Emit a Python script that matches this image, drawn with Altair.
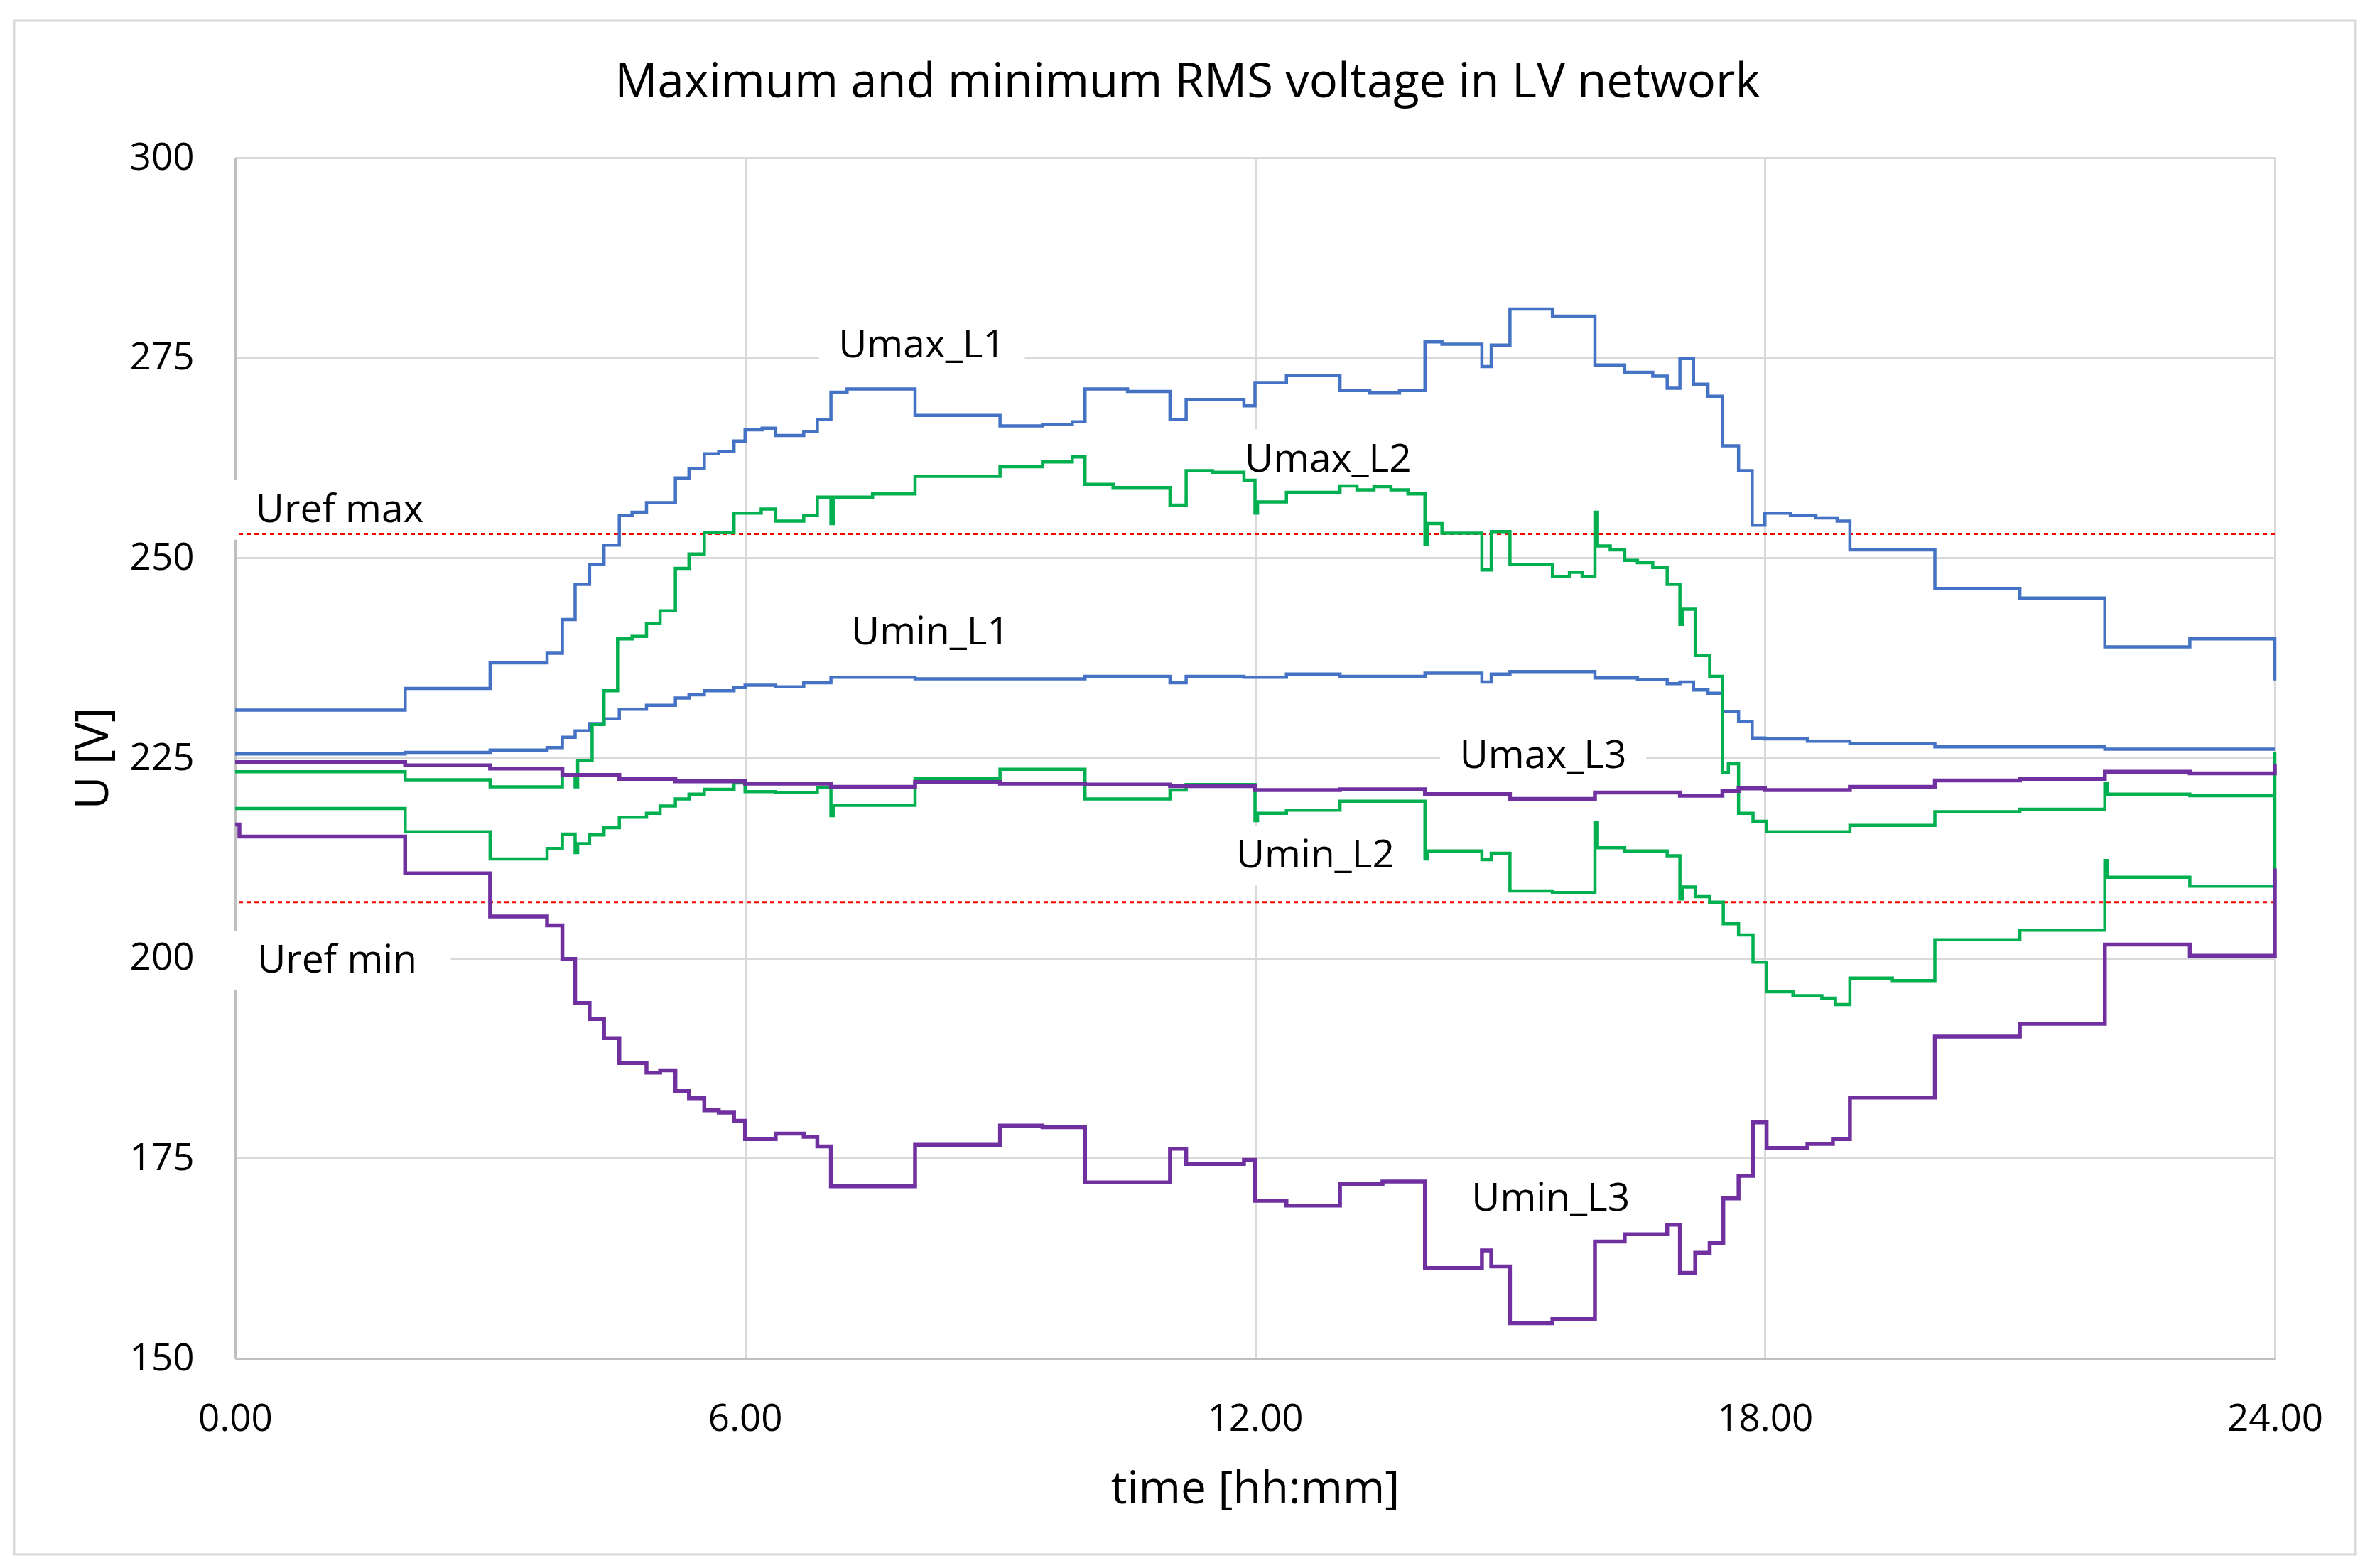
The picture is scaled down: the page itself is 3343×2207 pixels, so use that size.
import altair as alt
import pandas as pd

# ---------------- data (step change points: hour, voltage) ----------------
umax_l1 = [(0, 231.0), (2.0, 233.7), (3.0, 236.9), (3.67, 238.1), (3.85, 242.3), (4.0, 246.7),
           (4.17, 249.2), (4.34, 251.6), (4.52, 255.3), (4.67, 255.7), (4.84, 256.9), (5.18, 260.0),
           (5.34, 261.2), (5.52, 263.0), (5.69, 263.3), (5.87, 264.6), (6.0, 266.0), (6.2, 266.2),
           (6.36, 265.3), (6.69, 265.8), (6.85, 267.3), (7.01, 270.7), (7.2, 271.1), (8.0, 267.8),
           (9.0, 266.5), (9.5, 266.7), (9.85, 267.0), (10.0, 271.1), (10.5, 270.8), (11.0, 267.3),
           (11.19, 269.8), (11.87, 269.0), (12.0, 271.9), (12.37, 272.8), (13.0, 270.9), (13.35, 270.6),
           (13.7, 270.9), (14.0, 277.0), (14.2, 276.7), (14.67, 273.9), (14.78, 276.6), (15.0, 281.1),
           (15.5, 280.2), (16.0, 274.1), (16.35, 273.2), (16.68, 272.7), (16.85, 271.2), (17.0, 274.9),
           (17.16, 271.7), (17.33, 270.2), (17.5, 264.0), (17.69, 260.9), (17.85, 254.1), (18.0, 255.6),
           (18.3, 255.3), (18.6, 255.0), (18.85, 254.6), (19.0, 251.0), (20.0, 246.2), (21.0, 245.0),
           (22.0, 238.9), (23.0, 239.9), (24.0, 234.7)]

umin_l1 = [(0, 225.5), (2.0, 225.7), (3.0, 226.0), (3.67, 226.3), (3.85, 227.6), (4.0, 228.4),
           (4.17, 229.3), (4.34, 229.9), (4.52, 231.1), (4.84, 231.6), (5.18, 232.5), (5.34, 232.9),
           (5.52, 233.4), (5.87, 233.8), (6.0, 234.1), (6.36, 233.9), (6.69, 234.4), (7.01, 235.1),
           (8.0, 234.9), (10.0, 235.2), (11.0, 234.4), (11.19, 235.2), (11.87, 235.1), (12.37, 235.5),
           (13.0, 235.2), (14.0, 235.6), (14.67, 234.5), (14.78, 235.5), (15.0, 235.8), (16.0, 235.0),
           (16.5, 234.8), (16.85, 234.3), (17.0, 234.5), (17.16, 233.5), (17.33, 233.1), (17.5, 230.8),
           (17.69, 229.6), (17.85, 227.5), (18.0, 227.4), (18.5, 227.1), (19.0, 226.8), (20.0, 226.4),
           (22.0, 226.1), (24.0, 226.1)]

umax_l2 = [(0, 223.3), (2.0, 222.3), (3.0, 221.4), (3.85, 222.8), (4.0, 221.4), (4.03, 224.7),
           (4.2, 229.2), (4.34, 233.4), (4.5, 239.9), (4.67, 240.2), (4.84, 241.8), (5.0, 243.4),
           (5.18, 248.7), (5.34, 250.5), (5.52, 253.2), (5.87, 255.6), (6.19, 256.1), (6.36, 254.6),
           (6.69, 255.3), (6.85, 257.6), (7.01, 254.3), (7.04, 257.6), (7.5, 258.0), (8.0, 260.2),
           (9.0, 261.4), (9.5, 262.0), (9.85, 262.6), (10.0, 259.2), (10.33, 258.8), (11.0, 256.6),
           (11.19, 260.9), (11.5, 260.7), (11.87, 259.7), (12.0, 255.6), (12.03, 257.0), (12.37, 258.2),
           (13.0, 259.0), (13.2, 258.5), (13.4, 258.9), (13.6, 258.5), (13.8, 258.0), (14.0, 251.7),
           (14.03, 254.3), (14.2, 253.1), (14.67, 248.5), (14.78, 253.3), (15.0, 249.2), (15.5, 247.7),
           (15.7, 248.2), (15.85, 247.7), (16.0, 255.7), (16.03, 251.5), (16.18, 251.0), (16.35, 249.7),
           (16.5, 249.4), (16.68, 248.8), (16.85, 246.7), (17.0, 241.7), (17.03, 243.6), (17.18, 237.8),
           (17.35, 235.2), (17.5, 223.2), (17.57, 224.3), (17.69, 218.1), (17.86, 217.1), (18.02, 215.8),
           (19.0, 216.6), (20.0, 218.3), (21.0, 218.6), (22.0, 221.8), (22.03, 220.5), (23.0, 220.3),
           (24.0, 220.3)]

umin_l2 = [(0, 218.7), (2.0, 215.8), (3.0, 212.4), (3.67, 213.7), (3.85, 215.5), (4.0, 213.2),
           (4.03, 214.3), (4.17, 215.4), (4.34, 216.3), (4.52, 217.6), (4.84, 218.1), (5.0, 219.0),
           (5.18, 219.9), (5.34, 220.5), (5.52, 221.1), (5.87, 221.9), (6.0, 220.8), (6.36, 220.7),
           (6.85, 221.3), (7.01, 217.8), (7.04, 219.1), (8.0, 222.4), (9.0, 223.6), (10.0, 219.9),
           (11.0, 221.0), (11.19, 221.7), (12.0, 217.2), (12.03, 218.1), (12.37, 218.5), (13.0, 219.6),
           (14.0, 212.4), (14.03, 213.4), (14.67, 212.3), (14.78, 213.1), (15.0, 208.4), (15.5, 208.2),
           (16.0, 216.9), (16.03, 213.8), (16.35, 213.4), (16.85, 212.8), (17.0, 207.4), (17.03, 208.9),
           (17.18, 207.7), (17.35, 207.0), (17.51, 204.3), (17.69, 202.9), (17.86, 199.5), (18.02, 195.8),
           (18.33, 195.3), (18.67, 195.0), (18.83, 194.2), (19.0, 197.5), (19.5, 197.2), (20.0, 202.3),
           (21.0, 203.5), (22.0, 212.2), (22.03, 210.1), (23.0, 209.0), (24.0, 225.7)]

umax_l3 = [(0, 224.5), (2.0, 224.1), (3.0, 223.7), (3.85, 222.9), (4.52, 222.4), (5.18, 222.1),
           (6.0, 221.8), (7.01, 221.4), (8.0, 222.0), (9.0, 221.8), (10.0, 221.7), (11.0, 221.5),
           (12.0, 221.0), (13.0, 221.1), (14.0, 220.5), (15.0, 219.9), (16.0, 220.7), (17.0, 220.3),
           (17.5, 220.9), (17.69, 221.2), (18.0, 221.0), (19.0, 221.4), (20.0, 222.2), (21.0, 222.4),
           (22.0, 223.3), (23.0, 223.1), (24.0, 224.2)]

umin_l3 = [(0, 216.7), (0.05, 215.2), (2.0, 210.6), (3.0, 205.2), (3.67, 204.1), (3.85, 199.9),
           (4.0, 194.4), (4.17, 192.4), (4.34, 190.0), (4.52, 186.9), (4.84, 185.7), (5.0, 186.0),
           (5.18, 183.4), (5.34, 182.5), (5.52, 181.0), (5.69, 180.7), (5.87, 179.7), (6.0, 177.4),
           (6.36, 178.1), (6.69, 177.7), (6.85, 176.5), (7.01, 171.5), (8.0, 176.7), (9.0, 179.1),
           (9.5, 178.9), (10.0, 172.0), (11.0, 176.2), (11.19, 174.3), (11.87, 174.8), (12.0, 169.7),
           (12.37, 169.1), (13.0, 171.8), (13.5, 172.1), (14.0, 161.3), (14.67, 163.5), (14.78, 161.5),
           (15.0, 154.4), (15.5, 154.9), (16.0, 164.6), (16.35, 165.5), (16.85, 166.7), (17.0, 160.7),
           (17.18, 163.2), (17.35, 164.4), (17.51, 170.0), (17.69, 172.8), (17.86, 179.5), (18.02, 176.3),
           (18.5, 176.8), (18.8, 177.4), (19.0, 182.6), (20.0, 190.2), (21.0, 191.8), (22.0, 201.7),
           (23.0, 200.3), (24.0, 211.2)]

uref_values = [253, 207]

label_text = ["Umax_L1", "Umax_L2", "Uref max", "Umin_L1", "Umax_L3", "Umin_L2", "Uref min", "Umin_L3"]
label_t = [8.08, 12.86, 1.23, 8.18, 15.39, 12.71, 1.20, 15.48]
label_u = [276.6, 262.3, 256.0, 240.7, 225.3, 212.8, 199.7, 170.0]

x_ticks = [0, 6, 12, 18, 24]
y_ticks = [150, 175, 200, 225, 250, 275, 300]

# ---------------- layout ----------------
W, H = 2871, 1690
FONT = "Open Sans"
BLUE, GREEN, PURPLE, RED = "#4472C4", "#00B050", "#7030A0", "#FF0000"
GRID = "#D9D9D9"

xscale = alt.Scale(domain=[0, 24], nice=False, zero=False)
yscale = alt.Scale(domain=[150, 300], nice=False, zero=False)

x_axis = alt.Axis(values=x_ticks, format=".2f", title="time [hh:mm]",
                  labelFont=FONT, labelFontSize=53, labelColor="black", labelPadding=101,
                  labelBaseline="alphabetic", labelFlush=False, labelOverlap=False,
                  ticks=False, tickSize=0, domain=True, domainColor="#BFBFBF", domainWidth=3,
                  grid=True, gridColor=GRID, gridWidth=3,
                  titleFont=FONT, titleFontSize=64, titleFontWeight="normal", titleColor="black",
                  titleX=W / 2, titleY=203, titleBaseline="alphabetic", titleAlign="center")
y_axis = alt.Axis(values=y_ticks, format="d", title="U [V]",
                  labelFont=FONT, labelFontSize=53, labelColor="black", labelPadding=58,
                  labelOverlap=False, labelFlush=False,
                  ticks=False, tickSize=0, domain=True, domainColor="#BFBFBF", domainWidth=3,
                  grid=True, gridColor=GRID, gridWidth=3,
                  titleFont=FONT, titleFontSize=64, titleFontWeight="normal", titleColor="black",
                  titleAngle=270, titleX=-180, titleY=H / 2, titleBaseline="alphabetic",
                  titleAlign="center")

X = lambda f: alt.X(f, scale=xscale, axis=x_axis)
Y = lambda f: alt.Y(f, scale=yscale, axis=y_axis)

# label background boxes (white, like the spreadsheet data labels)
px_per_h = W / 24.0
px_per_v = H / 150.0
lab = pd.DataFrame({"text": label_text, "t": label_t, "u": label_u})
half_w_px = lab["text"].str.len() * 15 + 40
lab["t0"] = lab["t"] - half_w_px / px_per_h
lab["t1"] = lab["t"] + half_w_px / px_per_h
lab["u0"] = lab["u"] - 42 / px_per_v
lab["u1"] = lab["u"] + 42 / px_per_v

boxes = alt.Chart(lab).mark_rect(fill="white", stroke=None).encode(
    x=X("t0:Q"), x2="t1:Q", y=Y("u0:Q"), y2="u1:Q")

refs = alt.Chart(pd.DataFrame({"u": uref_values})).mark_rule(
    color=RED, strokeWidth=3, strokeDash=[6, 5]).encode(y=Y("u:Q"))

series = [("Umax_L1", umax_l1, BLUE, 4.5), ("Umin_L1", umin_l1, BLUE, 4.5),
          ("Umax_L2", umax_l2, GREEN, 4.5), ("Umin_L2", umin_l2, GREEN, 4.5),
          ("Umax_L3", umax_l3, PURPLE, 5.5), ("Umin_L3", umin_l3, PURPLE, 5.5)]

lines = []
for name, pts, col, sw in series:
    d = pd.DataFrame(pts, columns=["t", "u"])
    d["series"] = name
    lines.append(alt.Chart(d).mark_line(interpolate="step-after", color=col, strokeWidth=sw,
                                        strokeJoin="miter").encode(x=X("t:Q"), y=Y("u:Q")))

texts = alt.Chart(lab).mark_text(font=FONT, fontSize=55, color="black", align="center",
                                 baseline="middle").encode(x=X("t:Q"), y=Y("u:Q"), text="text:N")

FRAME_TOP = 29 - 222
frame = alt.Chart(pd.DataFrame({"a": [0]})).mark_rect(
    filled=False, stroke=GRID, strokeWidth=3).encode(
    x=alt.value(20 - 331), x2=alt.value(3315 - 331), y=alt.value(FRAME_TOP), y2=alt.value(2188 - 222))

# the title sits relative to the outer bounds (frame top), so shift it down into place
chart = alt.layer(frame, boxes, refs, *lines, texts).properties(
    width=W, height=H,
    title=alt.TitleParams("Maximum and minimum RMS voltage in LV network", font=FONT, fontSize=67,
                          fontWeight="normal", color="black", anchor="middle", dx=-95,
                          offset=0, dy=176, baseline="alphabetic"),
    autosize=alt.AutoSizeParams(type="none"),
    padding={"left": 323, "top": 214, "right": 130, "bottom": 285},
).configure_view(stroke=None).configure(background="white")

chart.save("out.html", embed_options={"renderer": "svg", "actions": False})
